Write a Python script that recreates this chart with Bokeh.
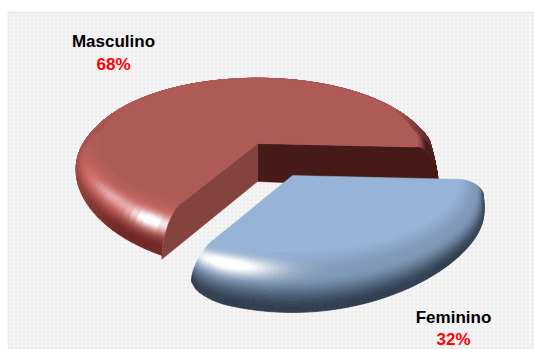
import math

from bokeh.core.properties import value
from bokeh.embed import file_html
from bokeh.models import Range1d
from bokeh.plotting import figure
from bokeh.resources import INLINE

# Share of respondents by sex
categories = ["Masculino", "Feminino"]
shares = [68, 32]


def mix(c1, c2, w):
    w = max(0.0, min(1.0, w))
    return tuple(c1[i] + (c2[i] - c1[i]) * w for i in range(3))


def to_hex(c):
    return "#%02x%02x%02x" % tuple(int(round(max(0, min(255, v)))) for v in c)


def bump(v, centre, width):
    return math.exp(-(((v - centre) / width) ** 2))


def smooth(v):
    v = max(0.0, min(1.0, v))
    return v * v * (3 - 2 * v)


def red_shade(a, th):
    u = th / 90
    base, mid = (174, 90, 86), (204, 99, 95)
    sin_a = math.sin(math.radians(a))
    # Only the front of the rim falls into shadow; the back stays close to the top colour
    frontness = max(0.0, -sin_a)
    bottom = mix((170, 84, 82), (112, 38, 36), frontness * 1.5 - 0.05)
    col = mix(base, mid, smooth(u / 0.5) * min(1.0, frontness * 3)) if u < 0.5 \
        else mix(mix(base, mid, min(1.0, frontness * 3)), bottom, smooth((u - 0.5) / 0.4))
    if a < 35:
        col = mix(col, (70, 28, 25), smooth(u * 2.5) * (35 - a) / 30)
    glow = 1.15 * bump(a, 236, 8) * bump(u, 0.52, 0.13) + 0.45 * bump(a, 218, 12) * bump(u, 0.45, 0.12)
    return mix(col, (255, 255, 255), glow)


def blue_shade(a, th):
    u = th / 90
    base, mid = (151, 179, 215), (126, 152, 183)
    bottom = mix((48, 62, 80), (66, 82, 102), (a - 325) / 32)
    col = mix(base, mid, smooth(u / 0.5)) if u < 0.5 else mix(mid, bottom, smooth((u - 0.5) / 0.45))
    glow = 1.2 * bump(a, 251, 15) * bump(u, 0.4, 0.15)
    return mix(col, (255, 255, 255), glow)


def red_drop(a):
    front = 0.38 + 0.62 * max(0.0, -math.sin(math.radians(a))) ** 1.3
    # The rim keeps its full height where it meets the dark cut face
    meeting = 0.95 * smooth(1 - (a + 3) / 24) if a < 100 else 0.0
    return max(front, meeting)


def blue_drop(a):
    return 0.6 + 0.4 * abs(math.sin(math.radians(a))) ** 3


class Wedge:
    """A thick pie slice with a rounded rim, projected in perspective."""

    def __init__(self, a0, a1, cx, cy, rx, ry, depth, bevel, back, drop, end_soften):
        self.a0, self.a1 = a0, a1
        self.cx, self.cy, self.rx, self.ry = cx, cy, rx, ry
        self.depth, self.bevel, self.back = depth, bevel, back
        self.drop, self.end_soften = drop, end_soften
        self.tilt = 0.126

    def rounding(self, a):
        span = 11.0
        d = min(a - self.a0, self.a1 - a)
        v = max(0.0, (span - d) / span)
        return math.sqrt(max(0.0, 1 - v * v))

    def point(self, a, th, full_depth=False):
        rad, t = math.radians(a), math.radians(th)
        s, c = math.sin(rad), math.cos(rad)
        front = (1 - s) / 2
        b = self.bevel * (self.back + (1 - self.back) * front)
        r = 1 - b * (1 - math.sin(t))
        scale = 1.0 if full_depth else self.drop(a) * (1 - self.end_soften * (1 - self.rounding(a)))
        z = self.depth * scale * (1 - math.cos(t))
        k = 1 / (1 + self.tilt * r * s)
        return self.cx + r * c * self.rx * k, self.cy - r * s * self.ry * k + z

    def arc(self, th, n=120):
        return [self.point(self.a0 + (self.a1 - self.a0) * i / n, th) for i in range(n + 1)]

    def profile(self, a, n=16):
        return [self.point(a, 90 * i / n, True) for i in range(n + 1)]

    def mesh(self, shade, na=90, nt=30):
        xs, ys, colours = [], [], []
        for j in range(nt):
            t0, t1 = 90 * j / nt, 90 * (j + 1) / nt
            for i in range(na):
                p0 = self.a0 + (self.a1 - self.a0) * i / na
                p1 = self.a0 + (self.a1 - self.a0) * (i + 1) / na
                quad = [self.point(p0, t0), self.point(p1, t0), self.point(p1, t1), self.point(p0, t1)]
                xs.append([q[0] for q in quad])
                ys.append([q[1] for q in quad])
                colours.append(to_hex(shade((p0 + p1) / 2, (t0 + t1) / 2)))
        return xs, ys, colours


W, H = 534, 349
p = figure(width=W, height=H, x_range=Range1d(0, W), y_range=Range1d(H, 0),
           output_backend="svg", toolbar_location=None, min_border=0,
           x_axis_type=None, y_axis_type=None)
p.grid.visible = False
p.outline_line_color = None
p.background_fill_color = "white"
p.border_fill_color = "white"

# Woven backdrop panel
left, top = 8, 12
p.quad(left=[left], right=[W], top=[top], bottom=[H], fill_color="#f8f8f8",
       line_color="#ececec", line_width=2)
grid_x = [v + 0.5 for v in range(left + 3, W, 4)]
grid_y = [v + 0.5 for v in range(top + 3, H, 4)]
p.segment(x0=grid_x, x1=grid_x, y0=[top] * len(grid_x), y1=[H] * len(grid_x),
          line_color="#eaeaea", line_width=1)
p.segment(x0=[left] * len(grid_y), x1=[W] * len(grid_y), y0=grid_y, y1=grid_y,
          line_color="#eaeaea", line_width=1)

# Slice angles follow the shares, running counter-clockwise from just below 3 o'clock
start = -3.0
red_end = start + shares[0] * 3.6
blue_end = red_end + shares[1] * 3.6

red = Wedge(start, red_end, 257, 143, 180, 75.4, 41, 0.2, 0.15, red_drop, 0.0)
blue = Wedge(red_end, blue_end, 292, 175, 190, 83, 42, 0.2, 0.35, blue_drop, 0.35)

# Red slice: rim first, then the two cut faces, then the top
xs, ys, cols = red.mesh(red_shade)
p.patches(xs, ys, fill_color=cols, line_color=cols, line_width=0.7)

apex_top = (red.cx, red.cy)
apex_low = (red.cx, red.cy + 38)
for ang, colour in ((red.a0, "#451a17"), (red.a1, "#84433f")):
    pts = [apex_top] + red.profile(ang) + [apex_low]
    p.patch([q[0] for q in pts], [q[1] for q in pts], fill_color=colour, line_color=colour, line_width=0.5)

pts = [apex_top] + red.arc(0)
p.patch([q[0] for q in pts], [q[1] for q in pts], fill_color="#ae5a56", line_color="#ae5a56", line_width=0.5)

# Blue slice, pulled out towards the viewer
xs, ys, cols = blue.mesh(blue_shade)
p.patches(xs, ys, fill_color=cols, line_color=cols, line_width=0.7)
pts = [(blue.cx, blue.cy)] + blue.arc(0)
p.patch([q[0] for q in pts], [q[1] for q in pts], fill_color="#97b3d7", line_color="#97b3d7", line_width=0.5)

# Labels
label_x = [113, 453]
name_y = [41, 317]
share_y = [64, 339]
p.text(x=label_x, y=name_y, text=categories, text_font=value("Liberation Sans"),
       text_font_style="bold", text_font_size="17px", text_color="#000000",
       text_align="center", text_baseline="middle")
p.text(x=label_x, y=share_y, text=[f"{v}%" for v in shares], text_font=value("Liberation Sans"),
       text_font_style="bold", text_font_size="17px", text_color="#ff0000",
       text_align="center", text_baseline="middle")

open("out.html", "w").write(file_html(p, INLINE))
